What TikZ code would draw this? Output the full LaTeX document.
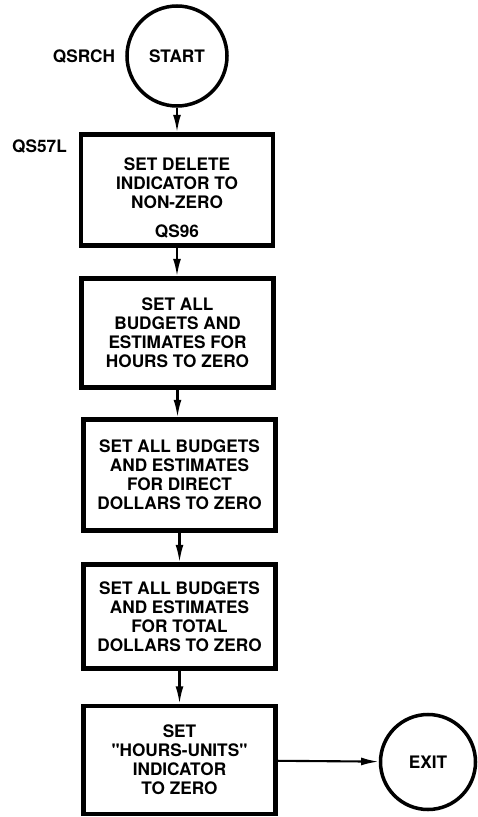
\documentclass[tikz,border=0pt]{standalone}
\usepackage{fontspec}
\setmainfont{TeX Gyre Heros}
\usepackage{tikz}
\usetikzlibrary{shapes.geometric,arrows.meta,positioning}

\begin{document}
\begin{tikzpicture}[auto,font=\fontsize{9.8}{10.8}\selectfont\bfseries,
    arrow/.style={draw,line width=1.2pt,-{Latex[length=10pt,width=4.5pt]}},
    term/.style={draw,circle,line width=2pt,inner sep=0pt},
    stepbox/.style={draw,rectangle,line width=2.4pt,minimum width=3.84cm,align=center},
    tag/.style={inner sep=1pt}]
    \useasboundingbox (0,0) rectangle (9.56,-16.34);

    \coordinate (C0) at (3.54,-1.12);
    \coordinate (C1) at (3.54,-3.80);
    \coordinate (C2) at (3.55,-6.66);
    \coordinate (C3) at (3.59,-9.50);
    \coordinate (C4) at (3.59,-12.33);
    \coordinate (C5) at (3.59,-15.20);
    \coordinate (C6) at (8.56,-15.24);

    % terminals
    \node[term,minimum size=2.0cm] (start) at (C0) {START};
    \node[term,minimum size=1.9cm] (exit) at (C6) {EXIT};

    % steps
    \node[stepbox,minimum height=2.22cm,text depth=8pt] (b1) at (C1) {SET DELETE\\INDICATOR TO\\NON-ZERO};
    \node[stepbox,minimum height=2.18cm] (b2) at (C2) {SET ALL\\BUDGETS AND\\ESTIMATES FOR\\HOURS TO ZERO};
    \node[stepbox,minimum height=2.22cm] (b3) at (C3) {SET ALL BUDGETS\\AND ESTIMATES\\FOR DIRECT\\DOLLARS TO ZERO};
    \node[stepbox,minimum height=2.08cm] (b4) at (C4) {SET ALL BUDGETS\\AND ESTIMATES\\FOR TOTAL\\DOLLARS TO ZERO};
    \node[stepbox,minimum height=2.16cm] (b5) at (C5) {SET\\\textquotedbl HOURS-UNITS\textquotedbl\\INDICATOR\\TO ZERO};

    % entry names
    \node[tag,left=0.16cm of start] (qsrch) {QSRCH};
    \node[tag,anchor=north east] (qs57l) at ([xshift=-0.2cm,yshift=-0.1cm]b1.north west) {QS57L};
    \node[tag,above=0.14cm of b1.south] (qs96) {QS96};

    % flow
    \foreach \a/\b in {start/b1,b1/b2,b2/b3,b3/b4,b4/b5}
    {
      \draw[arrow] (\a.south) -- (\a.south |- \b.north);
    }
    \draw[arrow] (b5) -- (exit);
\end{tikzpicture}
\end{document}
